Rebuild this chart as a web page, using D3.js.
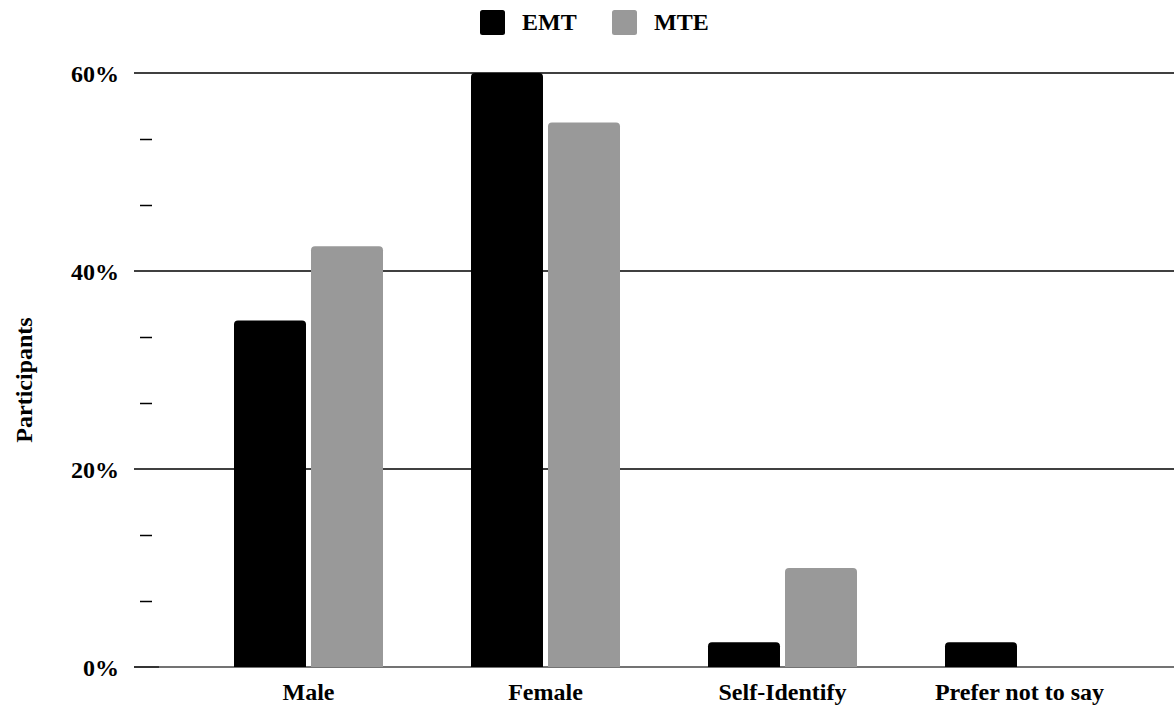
<!DOCTYPE html>
<html><head><meta charset="utf-8">
<script src="https://cdn.jsdelivr.net/npm/d3@7"></script>
<style>body{margin:0;background:#fff}svg{display:block}</style>
</head><body>
<svg id="chart" width="1174" height="711"></svg>
<script>
const categories = ["Male", "Female", "Self-Identify", "Prefer not to say"];
const series = ["EMT", "MTE"];
const emtValues = [35, 60, 2.5, 2.5];
const mteValues = [42.5, 55, 10, 0];
const majorTicks = [0, 20, 40, 60];
const minorTicks = [6.667, 13.333, 26.667, 33.333, 46.667, 53.333];
const colors = ["#000000", "#999999"];

const svg = d3.select("#chart");
const font = "'Liberation Serif','Times New Roman',serif";

const y = d3.scaleLinear().domain([0, 60]).range([667, 73]);
const x0 = d3.scaleBand().domain(categories).range([190, 1138])
  .paddingInner(88/237).paddingOuter(44/237);
const x1 = d3.scaleBand().domain(series).range([0, x0.bandwidth()]).paddingInner(0.065);

// gridlines
svg.append("g").selectAll("line").data(majorTicks.filter(d => d > 0)).join("line")
  .attr("x1", 134).attr("x2", 1174)
  .attr("y1", d => y(d)).attr("y2", d => y(d))
  .attr("stroke", "#000").attr("stroke-width", 1.6);
// baseline
svg.append("line").attr("x1", 134).attr("x2", 159).attr("y1", y(0)).attr("y2", y(0))
  .attr("stroke", "#000").attr("stroke-width", 1.6);
svg.append("line").attr("x1", 159).attr("x2", 1174).attr("y1", y(0)).attr("y2", y(0))
  .attr("stroke", "#444").attr("stroke-width", 1.6);
// minor ticks
svg.append("g").selectAll("line").data(minorTicks).join("line")
  .attr("x1", 140).attr("x2", 152)
  .attr("y1", d => Math.round(y(d)) + 0.5).attr("y2", d => Math.round(y(d)) + 0.5)
  .attr("stroke", "#000").attr("stroke-width", 1.5);

// y tick labels
svg.append("g").selectAll("text").data(majorTicks).join("text")
  .attr("x", 119).attr("y", d => y(d) + 9)
  .attr("text-anchor", "end")
  .attr("font-family", font).attr("font-weight", "bold").attr("font-size", 24)
  .text(d => d + "%");

// y title
svg.append("text")
  .attr("transform", "translate(32,380) rotate(-90)")
  .attr("text-anchor", "middle")
  .attr("font-family", font).attr("font-weight", "bold").attr("font-size", 24)
  .text("Participants");

// bars
function topRounded(x, yTop, w, h, r) {
  if (h <= 0) return "";
  r = Math.min(r, h, w / 2);
  return `M${x},${yTop + h}V${yTop + r}Q${x},${yTop} ${x + r},${yTop}H${x + w - r}Q${x + w},${yTop} ${x + w},${yTop + r}V${yTop + h}Z`;
}
const data = categories.map((c, i) => ({ cat: c, vals: [emtValues[i], mteValues[i]] }));
const groups = svg.append("g").selectAll("g").data(data).join("g")
  .attr("transform", d => `translate(${x0(d.cat)},0)`);
groups.selectAll("path").data(d => d.vals.map((v, j) => ({ s: series[j], v, j }))).join("path")
  .attr("d", d => topRounded(x1(d.s), y(d.v), x1.bandwidth(), y(0) - y(d.v), 4))
  .attr("fill", d => colors[d.j]);

// x labels
svg.append("g").selectAll("text").data(categories).join("text")
  .attr("x", d => x0(d) + x0.bandwidth() / 2).attr("y", 700)
  .attr("text-anchor", "middle")
  .attr("font-family", font).attr("font-weight", "bold").attr("font-size", 24)
  .text(d => d);

// legend
const legendX = [480, 612];
const leg = svg.append("g").selectAll("g").data(series).join("g")
  .attr("transform", (d, i) => `translate(${legendX[i]},10)`);
leg.append("rect").attr("width", 25).attr("height", 25).attr("rx", 2.5)
  .attr("fill", (d, i) => colors[i]);
leg.append("text").attr("x", 42).attr("y", 20)
  .attr("font-family", font).attr("font-weight", "bold").attr("font-size", 24)
  .text(d => d);
</script>
</body></html>
